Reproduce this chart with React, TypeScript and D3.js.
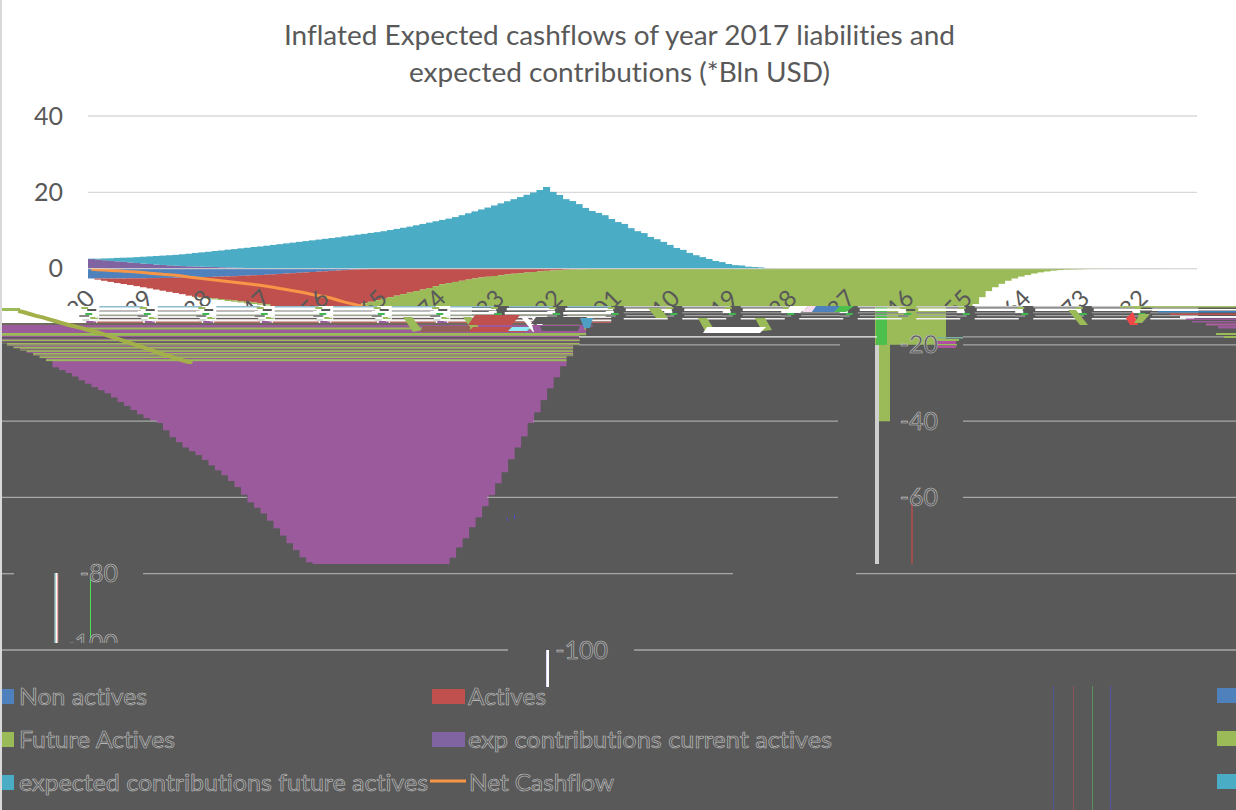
import React from "react";
import * as d3 from "d3";

// Cashflow years, one column per year.
const firstYear = 2020;
const columnCount = 171;
const labelEvery = 9;

// Bln USD per year, shown below the axis.
const nonActives = [
  2.6, 2.6, 2.6, 2.6, 2.6, 2.6, 2.55, 2.55, 2.55, 2.5, 2.5, 2.45, 2.45, 2.4, 2.4, 2.35, 2.3, 2.25, 2.2, 2.15,
  2.1, 2.05, 2, 1.9, 1.85, 1.75, 1.7, 1.6, 1.5, 1.4, 1.3, 1.2, 1.1, 1, 0.9, 0.8, 0.7, 0.6, 0.5, 0.4,
  0.3, 0.2, 0.15, 0.1, 0.05,
];
const actives = [
  0, 0.3, 0.6, 0.9, 1.2, 1.45, 1.75, 2.05, 2.35, 2.7, 3, 3.35, 3.65, 4, 4.3, 4.75, 5.1, 5.3, 5.5, 5.7,
  5.9, 6.15, 6.35, 6.65, 6.85, 7.15, 7.4, 7.75, 8.35, 8.6, 8.85, 9.1, 9.3, 9.5, 9.6, 9.7, 9.75, 9.75, 9.7, 9.6,
  9.5, 9.3, 8.95, 8.6, 8.25, 7.9, 7.5, 7.1, 6.7, 6.3, 5.9, 5.5, 5.1, 4.6, 4.1, 3.8, 3.5, 3.2, 2.9, 2.6,
  2.35, 2.15, 1.95, 1.75, 1.55, 1.35, 1.2, 1.05, 0.9, 0.75, 0.6, 0.5, 0.4, 0.3, 0.25, 0.2, 0.15, 0.1, 0.05,
];
const futureActives = [
  0, 0, 0, 0, 0, 0, 0, 0, 0, 0, 0, 0, 0, 0, 0, 0, 0.1, 0.15, 0.2, 0.25,
  0.25, 0.3, 0.35, 0.35, 0.4, 0.4, 0.4, 0.35, 0.4, 0.9, 1.45, 1.9, 2.5, 3, 3.7, 4.3, 4.95, 5.65, 6.4, 7.2,
  8, 8.9, 9.9, 10.9, 12, 13, 14, 15, 16.1, 17.2, 18.4, 20.4, 21.5, 22.8, 24.2, 25.5, 26.7, 27.9, 29, 30.1,
  31.45, 32.85, 34.05, 35.35, 36.65, 37.85, 38.7, 39.45, 41.5, 43.45, 44.9, 46.4, 47.5, 48.6, 49.95, 51.4, 52.75, 54.1, 55.65, 57.3,
  59.3, 61.3, 62.7, 64.2, 66.1, 68.1, 70, 72, 73.8, 75.7, 77, 77.6, 77.6, 77.6, 77.6, 77.6, 77.6, 77.6, 77.6, 77.6,
  77.6, 77.6, 77.6, 77.6, 77.6, 77.6, 77.6, 77.6, 77.6, 77.6, 77.6, 77.6, 75.8, 73.1, 70.7, 67.8, 65.2, 62.3, 59.4, 56.3,
  53.4, 50, 46.9, 44, 40.5, 37.7, 34.5, 31.4, 28.5, 25.6, 23, 20.1, 17.5, 15.2, 13, 11, 9.3, 7.5, 5.9, 4.9,
  4, 3.2, 2.6, 2.1, 1.7, 1.3, 1, 0.75, 0.55, 0.4, 0.3, 0.25, 0.2, 0.15, 0.12, 0.1, 0.1, 0.08, 0.08, 0.06,
  0.06, 0.05, 0.05, 0.05, 0.05,
];

// Bln USD per year, shown above the axis.
const contributionsCurrent = [
  2.5, 2.4, 2.2, 2, 1.9, 1.75, 1.6, 1.45, 1.3, 1.2, 1.05, 0.95, 0.85, 0.75, 0.65, 0.6, 0.55, 0.5, 0.45, 0.4,
  0.35, 0.3, 0.25, 0.2, 0.15, 0.1, 0.05,
];
const contributionsFuture = [
  0.1, 0.2, 0.45, 0.7, 0.9, 1.1, 1.3, 1.55, 1.8, 2, 2.25, 2.45, 2.65, 2.85, 3.1, 3.3, 3.55, 3.75, 3.95, 4.2,
  4.4, 4.65, 4.85, 5.1, 5.3, 5.55, 5.75, 6, 6.2, 6.4, 6.6, 6.8, 7, 7.2, 7.4, 7.6, 7.8, 8, 8.2, 8.45,
  8.65, 8.9, 9.1, 9.35, 9.55, 9.8, 10.1, 10.4, 10.7, 11, 11.35, 11.7, 12.05, 12.4, 12.75, 13.1, 13.5, 14, 14.5, 15,
  15.5, 16, 16.55, 17.1, 17.65, 18.2, 18.75, 19.35, 19.95, 20.6, 21.4, 20.1, 19.3, 18.2, 17.7, 16.9, 15.9, 15.1, 14.6, 14,
  13, 12.2, 11.7, 10.6, 9.8, 9.3, 8.3, 7.7, 7, 6.2, 5.4, 4.9, 4.1, 3.5, 3, 2.5, 2, 1.7, 1.2, 0.9,
  0.8, 0.5, 0.4, 0.3, 0.1,
];

// Balance of all the flows; the readable part of the line.
const netCashflow = [
  -0.2, -0.3, -0.4, -0.5, -0.6, -0.7, -0.8, -0.9, -1.05, -1.2, -1.35, -1.5, -1.6, -1.75, -1.95, -2.2, -2.4, -2.6, -2.8, -3,
  -3.2, -3.4, -3.6, -3.8, -4, -4.2, -4.4, -4.65, -4.9, -5.2, -5.5, -5.8, -6.1, -6.4, -6.8, -7.1, -7.4, -7.8, -8.3, -8.8,
  -9.2, -9.6, -9.95, -10.3, -10.7, -11.05, -11.4, -11.9, -12.4, -12.8, -13.3, -13.8, -14.3, -14.8, -15.2, -15.6, -16.1, -16.5, -17, -17.6,
  -18.1, -18.7, -19.3, -19.8, -20.4, -21, -21.6, -22.2, -22.7, -23.3, -23.8, -24.3, -24.8,
];

const yTicksUpper = [40, 20, 0];
const titleLines = ["Inflated Expected cashflows of year 2017 liabilities and", "expected contributions (*Bln USD)"];

// Draw order of the stacked series and their colours.
const seriesKeys = ["nonActives", "actives", "futureActives", "contributionsCurrent", "contributionsFuture"];
const seriesColors: Record<string, string> = {
  nonActives: "#4F81BD",
  actives: "#C0504D",
  futureActives: "#9BBB59",
  contributionsCurrent: "#8064A2",
  contributionsFuture: "#4BACC6",
};
const seriesValues: Record<string, number[]> = { nonActives, actives, futureActives, contributionsCurrent, contributionsFuture };

const INK = "#595959";
const GHOST = "#C4C4C4";
const BAND_COLOUR = "#9B5A9B";
const OLIVE = "#9BBB59";
const GRID_DARK = "#A8A8A8";

// The lower block of the drawing sits further left than the upper one.
const lowerShift = 367;
const tornAt = 306;

const years = d3.range(columnCount).map((i) => firstYear + i);
const yearIndex = d3.range(columnCount);
const x = d3.scaleBand<number>().domain(yearIndex).range([88, 88 + 6.5 * columnCount]).padding(0);
const y = d3.scaleLinear().domain([-100, 40]).range([650, 116]);

const rowsObj = yearIndex.map((i) => {
  const row: Record<string, number> = { i };
  const sign = (k: string) => (k.startsWith("contributions") ? 1 : -1);
  seriesKeys.forEach((k) => (row[k] = sign(k) * (seriesValues[k][i] ?? 0)));
  return row;
});
const stacked = d3.stack<Record<string, number>>().keys(seriesKeys).offset(d3.stackOffsetDiverging)(rowsObj);
const lowest = yearIndex.map((i) => d3.min(stacked, (s) => s[i][0]) as number);

const netLine = d3
  .line<number>()
  .x((_, i) => (x(i) as number) + x.bandwidth() / 2)
  .y((v) => y(v));

const labelled = yearIndex.filter((i) => i % labelEvery === 0);

// Horizontal runs repeated after every year label, [offset, top, length, height, colour].
const leftRuns: [number, number, number, number, string][] = [
  [12, 306, 44, 1.5, "#8FBBD0"], [10, 308, 48, 2.5, "#FFFFFF"], [12, 310.5, 42, 1, "#7C7C7C"],
  [8, 312, 48, 2.5, "#FFFFFF"], [12, 314.5, 44, 1.5, "#9DA58F"], [8, 316, 48, 2, "#EFEFEF"],
  [12, 318, 42, 1.5, "#6A5B5B"], [6, 319.5, 50, 2, "#F4F4F4"], [10, 321.5, 46, 1.5, "#B5655F"],
];
const leftKnots: [number, number, number, number, string][] = [
  [-6, 307, 7, 2, OLIVE], [0, 309, 9, 2, "#595959"], [-8, 311, 8, 2, "#FFFFFF"], [-2, 313, 7, 2, "#3FB94F"],
  [-8, 315, 10, 2, "#888888"], [3, 317, 8, 2, OLIVE], [-5, 319, 7, 2, "#D9D9D9"], [-1, 321, 10, 2, "#9B5A9B"],
];
const rightRuns: [number, number, number, number, string][] = [
  [10, 306, 48, 1.5, "#C9C9C9"], [12, 308.5, 46, 2.5, "#FFFFFF"], [10, 312, 48, 1.5, "#8C8C8C"],
  [12, 315, 46, 1.2, "#A8A8A8"], [10, 318, 44, 1.5, "#F1F1F1"],
];
// Slanted scraps inside the torn strip, as [[x, y], ...] outlines with a colour.
const scraps: [string, string][] = [
  ["403,317 412,317 422,330 413,332", OLIVE],
  ["463,317 471,317 481,330 473,332", OLIVE],
  ["475,315 520,315 512,325 468,325", "#C0504D"],
  ["473,327 530,327 525,332 468,332", "#C0504D"],
  ["423,326 470,326 470,332 420,332", "#96605A"],
  ["512,327 531,327 527,331 508,331", "#8EEAF4"],
  ["521,317 527,317 540,332 533,332", "#FFFFFF"],
  ["531,317 536,317 549,332 543,332", "#FFFFFF"],
  ["536,317 587,317 583,324 531,324", INK],
  ["532,325 586,325 583,332 534,332", BAND_COLOUR],
  ["540,326 580,326 578,331 542,331", INK],
  ["580,318 593,318 590,328 584,328", "#4F9EC4"],
  ["648,308 660,308 668,318 656,318", OLIVE],
  ["698,318 707,318 715,331 705,331", OLIVE],
  ["755,318 765,318 772,330 762,331", OLIVE],
  ["707,327 766,327 760,333 703,333", "#FFFFFF"],
  ["790,306 808,306 800,313 786,313", "#FFFFFF"],
  ["808,306 818,306 812,312 802,312", "#F5DCEF"],
  ["816,306 842,306 838,312 812,312", "#4F81BD"],
  ["840,306 854,306 846,312 834,312", "#4CBF4C"],
  ["1068,310 1076,310 1088,325 1080,325", OLIVE],
  ["1126,318 1133,312 1138,325 1130,325", "#F04848"],
  ["1140,314 1150,314 1142,323 1134,323", OLIVE],
];
// Fine coloured rows that fan out at the far right of the strip, and beside the -20 label.
const rightEdgeRows: [number, number, number, number, string][] = [
  [1120, 306, 116, 1.5, "#A8C46A"], [1136, 309, 100, 1.5, "#FFFFFF"], [1158, 311, 78, 1.5, "#3F7FBF"],
  [1170, 313.5, 66, 1.5, "#C0504D"], [1180, 316, 56, 2, "#F4F4F4"], [1186, 318.5, 50, 1.5, "#9B5A9B"],
  [1192, 321, 44, 1.5, "#9B5A9B"], [1206, 323.5, 30, 2, "#B060A0"], [1218, 326, 18, 2.5, "#9B5A9B"],
  [1216, 333, 20, 2, OLIVE], [1224, 336, 12, 2, OLIVE],
  [937, 337, 26, 1.5, "#7FB0A0"], [937, 339, 22, 2, OLIVE], [937, 341, 19, 3, "#B050A0"],
  [937, 344, 20, 1.5, OLIVE], [937, 345.5, 19, 2.5, "#B050A0"],
];
// Rows of the stacked band over the lower block, [top, height, colour, from x].
const stripeRows: [number, number, string, number][] = [
  [327.5, 2, OLIVE, 80], [333, 2.8, OLIVE, 2], [337, 1.6, INK, 2], [339.6, 1.6, OLIVE, 2], [341.5, 1.2, INK, 2],
  [343, 1.6, OLIVE, 2], [345, 1.4, "#8A8A70", 2], [347, 1.6, OLIVE, 2], [349, 1, "#7A7468", 2], [350.3, 1.6, OLIVE, 2],
  [353, 1.6, OLIVE, 2], [355, 1, "#8A8A70", 2], [356.4, 1.6, OLIVE, 2], [359.2, 2, OLIVE, 2],
];
// Pieces of the dark gridlines, [value, from x, to x].
const darkGrid: [number, number, number][] = [
  [-17.9, 579, 877], [-17.9, 963, 1224], [-20, 579, 840], [-20, 963, 1236],
  [-40, 2, 157], [-40, 533, 838], [-40, 963, 1236],
  [-60, 2, 247], [-60, 487, 838], [-60, 963, 1236],
  [-80, 2, 14], [-80, 143, 733], [-80, 856, 1236],
  [-100, 2, 508], [-100, 634, 1236],
];
// Lower tick labels, [text, right edge, value].
const ghostTicks: [string, number, number][] = [
  ["-20", 938, -20], ["-40", 938, -40], ["-60", 938, -60], ["-80", 118, -80], ["-100", 608, -100],
];
// Legend rows: series colour, label and the label's start and end.
const legendRows: [string, string, number, number, number, number, number][] = [
  ["#4F81BD", "Non actives", 2, 14, 19, 147, 0],
  ["#C0504D", "Actives", 432, 465, 468, 546, 0],
  ["#9BBB59", "Future Actives", 2, 14, 19, 175, 1],
  ["#8064A2", "exp contributions current actives", 432, 465, 468, 832, 1],
  ["#4BACC6", "expected contributions future actives", 2, 14, 19, 428, 2],
];
const legendTop = [689, 732, 775];
const ruleLines: [number, string][] = [[1053, "#50559A"], [1073, "#8A5555"], [1092, "#5F8F5F"], [1110, "#5555A8"]];
const strayBars: [number, number, number, number, string][] = [
  [875, 345, 4, 219, "#CFCFCF"], [911.5, 500, 1, 64, "#E04848"], [54.5, 573, 1.2, 70, "#A8E8E8"], [55.7, 573, 1.4, 70, "#FFFFFF"],
  [57, 573, 1.2, 70, "#F2A8A0"], [90, 577, 1, 63, "#4EE04E"], [546, 650, 1, 37, "#D8D8FF"], [547, 650, 2, 37, "#FFFFFF"],
  [507, 518, 1, 3, "#4A50C8"], [514, 515, 1, 4, "#4A50C8"],
];

export default function App() {
  const font = "Lato, 'Open Sans', sans-serif";
  const bandLeft = (i: number) => x(i) as number;
  const w = x.bandwidth();
  return (
    <svg
      width={1236}
      height={810}
      viewBox="0 0 1236 810"
      style={{ position: "absolute", left: 0, top: 0, background: "#fff", fontVariantLigatures: "none" }}
      fontFamily={font}
    >
      <defs>
        <clipPath id="upperBlock">
          <rect x={0} y={0} width={1236} height={tornAt} />
          <rect x={875} y={tornAt} width={71} height={y(-20) - tornAt} />
          <rect x={879} y={y(-20)} width={11} height={y(-40) - y(-20)} />
        </clipPath>
        <clipPath id="upperStrip">
          <rect x={0} y={0} width={1236} height={tornAt} />
        </clipPath>
        <clipPath id="lowerWindow">
          <rect x={2} y={325} width={600} height={564 - 325} />
        </clipPath>
        <clipPath id="lowerOutline">
          {yearIndex.map((i) => (
            <rect
              key={i}
              x={bandLeft(i) - lowerShift}
              y={y(0)}
              width={w + 0.6}
              height={Math.max(0, y(lowest[i]) - y(0))}
            />
          ))}
        </clipPath>
        <clipPath id="netWindow">
          <rect x={18} y={308} width={400} height={56} />
        </clipPath>
        <clipPath id="cutLabel">
          <rect x={70} y={630} width={60} height={13} />
        </clipPath>
      </defs>

      {titleLines.map((t, i) => (
        <text
          key={t}
          x={i === 0 ? 284 : 409}
          y={i === 0 ? 45 : 82}
          fontSize={27}
          fill={INK}
          textLength={i === 0 ? 671 : 421}
          lengthAdjust="spacingAndGlyphs"
        >
          {t}
        </text>
      ))}

      {yTicksUpper.map((t) => (
        <g key={t}>
          <line x1={88} x2={1197} y1={y(t)} y2={y(t)} stroke="#D9D9D9" strokeWidth={1.3} />
          <text x={63} y={y(t) + 8.5} textAnchor="end" fontSize={25} fill={INK}>
            {t}
          </text>
        </g>
      ))}

      <rect x={0} y={tornAt} width={1236} height={810 - tornAt} fill={INK} />
      <rect x={2} y={tornAt} width={470} height={17} fill="#FFFFFF" />

      <g clipPath="url(#upperBlock)">
        {stacked.map((s) => (
          <g key={s.key} fill={seriesColors[s.key]}>
            {s.map((d, i) =>
              d[0] === d[1] ? null : (
                <rect
                  key={i}
                  x={bandLeft(i)}
                  width={w + 0.6}
                  y={y(Math.max(d[0], d[1]))}
                  height={y(Math.min(d[0], d[1])) - y(Math.max(d[0], d[1]))}
                />
              ),
            )}
          </g>
        ))}
      </g>
      <rect x={876} y={tornAt} width={11} height={y(-20) - tornAt} fill="#4CBF4C" />

      <g clipPath="url(#upperStrip)">
        <path d={netLine(netCashflow) as string} fill="none" stroke="#F79646" strokeWidth={3} />
      </g>
      <line x1={88} x2={1197} y1={y(0)} y2={y(0)} stroke="#D9D9D9" strokeOpacity={0.75} strokeWidth={1.2} />

      <g clipPath="url(#upperStrip)">
        {labelled.map((i) => {
          const cx = bandLeft(i) + w / 2 - 4;
          return (
            <text
              key={i}
              transform={`translate(${cx + 9},${300}) rotate(-45)`}
              textAnchor="end"
              fontSize={24}
              fill={INK}
            >
              {years[i]}
            </text>
          );
        })}
      </g>

      {labelled.map((i) => {
        const cx = bandLeft(i) + w / 2 - 4;
        const runs = cx < 580 ? leftRuns : rightRuns;
        return (
          <g key={i}>
            {cx < 580 && leftKnots.map(([dx, top, len, h, c], j) => <rect key={j} x={cx + dx} y={top} width={len} height={h} fill={c} />)}
            {cx >= 580 && leftKnots.slice(0, 5).map(([dx, top, len, h, c], j) => <rect key={j} x={cx + dx} y={top} width={len} height={h} fill={c} />)}
            {runs.map(([dx, top, len, h, c], j) => <rect key={`r${j}`} x={cx + dx} y={top} width={len} height={h} fill={c} />)}
          </g>
        );
      })}
      <rect x={2} y={318} width={20} height={3} fill="#FFFFFF" />
      <rect x={2} y={308} width={18} height={3} fill={OLIVE} />
      <rect x={2} y={323} width={578} height={2} fill="#6E6A5E" />

      <g clipPath="url(#lowerWindow)">
        <g clipPath="url(#lowerOutline)">
          <rect x={0} y={325} width={620} height={240} fill={BAND_COLOUR} />
          {stripeRows.map(([top, h, c, from], j) => (
            <rect key={j} x={from} y={top} width={600 - from} height={h} fill={c} />
          ))}
        </g>
      </g>
      <g clipPath="url(#netWindow)">
        <g transform={`translate(${-lowerShift},0)`}>
          <path d={netLine(netCashflow) as string} fill="none" stroke="#A3B04A" strokeWidth={4} />
        </g>
      </g>

      {scraps.map(([pts, c], j) => (
        <polygon key={j} points={pts} fill={c} />
      ))}
      {rightEdgeRows.map(([a, top, len, h, c], j) => (
        <rect key={j} x={a} y={top} width={len} height={h} fill={c} />
      ))}

      {darkGrid.map(([v, a, b], j) => (
        <line key={j} x1={a} x2={b} y1={y(v)} y2={y(v)} stroke={v === -17.9 && a < 600 ? "#F2F2F2" : GRID_DARK} strokeWidth={1.3} />
      ))}

      {strayBars.map(([a, top, len, h, c], j) => (
        <rect key={j} x={a} y={top} width={len} height={h} fill={c} />
      ))}

      {ghostTicks.map(([t, right, v], j) => (
        <text
          key={j}
          x={right}
          y={y(v) + 8.5}
          textAnchor="end"
          fontSize={25}
          fill={INK}
          stroke={GHOST}
          strokeWidth={0.6}
        >
          {t}
        </text>
      ))}
      <text
        x={118}
        y={652}
        textAnchor="end"
        fontSize={25}
        fill={INK}
        stroke={GHOST}
        strokeWidth={0.6}
        clipPath="url(#cutLabel)"
      >
        -100
      </text>

      {legendRows.map(([c, t, a, b, tx, tEnd, row]) => (
        <g key={t}>
          <rect x={a} y={legendTop[row]} width={b - a} height={15} fill={c} />
          <text
            x={tx}
            y={legendTop[row] + 16}
            fontSize={24}
            fill={INK}
            stroke={GHOST}
            strokeWidth={0.6}
            textLength={tEnd - tx}
            lengthAdjust="spacingAndGlyphs"
          >
            {t}
          </text>
        </g>
      ))}
      <line x1={430} x2={466} y1={781} y2={781} stroke="#F79646" strokeWidth={3} />
      <text
        x={469}
        y={legendTop[2] + 16}
        fontSize={24}
        fill={INK}
        stroke={GHOST}
        strokeWidth={0.6}
        textLength={145}
        lengthAdjust="spacingAndGlyphs"
      >
        Net Cashflow
      </text>

      {legendRows
        .filter(([, , a]) => a === 2)
        .map(([c, , , , , , row]) => (
          <rect key={row} x={1217} y={legendTop[row] - 1} width={19} height={15} fill={c} />
        ))}
      {ruleLines.map(([lx, c]) => (
        <line key={lx} x1={lx + 0.5} x2={lx + 0.5} y1={686} y2={810} stroke={c} strokeWidth={1} />
      ))}
      <line x1={1} x2={1} y1={0} y2={810} stroke="#D9D9D9" strokeWidth={2} />
    </svg>
  );
}
